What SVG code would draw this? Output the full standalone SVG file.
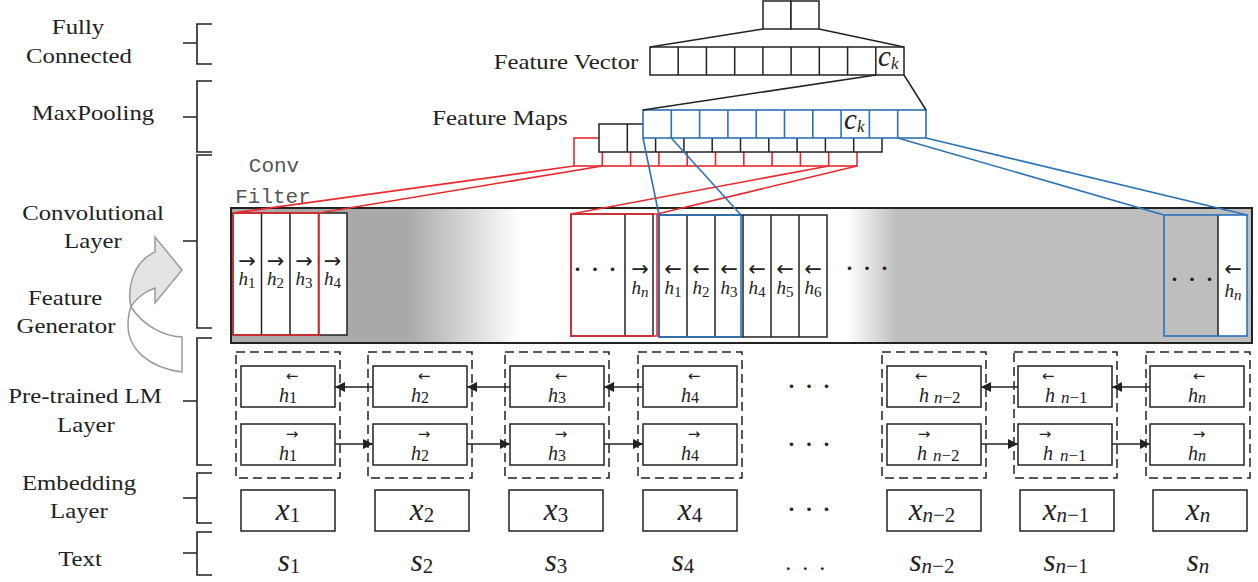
<svg xmlns="http://www.w3.org/2000/svg" width="1258" height="582" viewBox="0 0 1258 582">
<defs>
<linearGradient id="cg" x1="231" x2="1252" y1="0" y2="0" gradientUnits="userSpaceOnUse">
<stop offset="0" stop-color="#a9a9a9"/>
<stop offset="0.172" stop-color="#a9a9a9"/>
<stop offset="0.283" stop-color="#ffffff"/>
<stop offset="0.604" stop-color="#ffffff"/>
<stop offset="0.652" stop-color="#bebebe"/>
<stop offset="1" stop-color="#bebebe"/>
</linearGradient>
<marker id="ah" markerWidth="10" markerHeight="10" refX="10" refY="5" orient="auto" markerUnits="userSpaceOnUse">
<path d="M0,0 L10,5 L0,10 Z" fill="#222"/>
</marker>
</defs>
<style>
.lbl{font-family:"Liberation Serif","Times New Roman",serif;font-size:21px;fill:#222;text-anchor:middle}
.br{fill:none;stroke:#222;stroke-width:1.6}
.box{fill:#fff;stroke:#222;stroke-width:1.5}
.red{stroke:#e8282d;stroke-width:1.6;fill:none}
.blue{stroke:#2b72b8;stroke-width:1.6;fill:none}
.redf{stroke:#e8282d;stroke-width:1.6;fill:#fff}
.bluef{stroke:#2b72b8;stroke-width:1.6;fill:#fff}
.ln{stroke:#222;stroke-width:1.5;fill:none}
.dash{fill:none;stroke:#222;stroke-width:1.5;stroke-dasharray:9 5}
.mi{font-family:"Liberation Serif",serif;font-style:italic;fill:#222}
.h{font-family:"Liberation Serif",serif;font-style:italic;fill:#222}
.sub{font-family:"Liberation Serif",serif;font-style:normal}
.subi{font-family:"Liberation Serif",serif;font-style:italic}
.ar{font-family:"DejaVu Sans",sans-serif;fill:#222;text-anchor:middle}
.dots{font-family:"Liberation Serif",serif;font-size:30px;fill:#222;text-anchor:middle}
.dots2{font-family:"Liberation Serif",serif;font-size:24px;letter-spacing:1.5px;fill:#222;text-anchor:middle}
.cf{font-family:"Liberation Mono",monospace;font-size:21px;fill:#555;text-anchor:middle}
.arrw{stroke:#222;stroke-width:1.5;fill:none;marker-end:url(#ah)}
</style>

<!-- Left labels and braces -->
<g id="labels">
<text class="lbl" transform="translate(78,34) scale(1.18,1)">Fully</text>
<text class="lbl" transform="translate(79,63) scale(1.18,1)">Connected</text>
<text class="lbl" transform="translate(93,120) scale(1.18,1)">MaxPooling</text>
<text class="lbl" transform="translate(93,220) scale(1.18,1)">Convolutional</text>
<text class="lbl" transform="translate(93,248) scale(1.18,1)">Layer</text>
<text class="lbl" transform="translate(65,305) scale(1.18,1)">Feature</text>
<text class="lbl" transform="translate(66,333) scale(1.18,1)">Generator</text>
<text class="lbl" transform="translate(85,403) scale(1.18,1)">Pre-trained LM</text>
<text class="lbl" transform="translate(86,432) scale(1.18,1)">Layer</text>
<text class="lbl" transform="translate(79,490) scale(1.18,1)">Embedding</text>
<text class="lbl" transform="translate(79,518) scale(1.18,1)">Layer</text>
<text class="lbl" transform="translate(80,566) scale(1.18,1)">Text</text>
</g>
<g id="braces">
<path class="br" d="M212,24 H197 V64 H212 M183,43 H197"/>
<path class="br" d="M212,81 H197 V152 H212 M183,117 H197"/>
<path class="br" d="M212,155 H197 V328 H212 M183,241 H197"/>
<path class="br" d="M212,338 H197 V465 H212 M183,401 H197"/>
<path class="br" d="M212,473 H197 V523 H212 M183,498 H197"/>
<path class="br" d="M212,532 H197 V575 H212 M183,553 H197"/>
</g>

<!-- Feature generator curved arrow -->
<g id="feature-generator-arrow">
<path d="M131,307 C143,325 162,336 182,337 L182,372 C150,368 128,350 128,325 C128,318 129,312 131,307 Z" fill="#fff" stroke="#9a9a9a" stroke-width="1.5"/>
<path d="M155,252 L155,237 L182,270 L155,303 L155,288 C146,291 136,298 131,307 C127,290 132,262 155,252 Z" fill="#e4e4e4" stroke="#9a9a9a" stroke-width="1.5"/>
</g>

<!-- Fully connected -->
<g id="fully-connected">
<rect class="box" x="763" y="1" width="28" height="28"/>
<rect class="box" x="791" y="1" width="28" height="28"/>
</g>

<!-- Feature vector -->
<g id="feature-vector">
<text class="lbl" transform="translate(566,69) scale(1.18,1)">Feature Vector</text>
<rect class="box" x="650" y="47" width="254" height="28"/>
<path class="ln" d="M678.2,47V75 M706.4,47V75 M734.7,47V75 M762.9,47V75 M791.1,47V75 M819.3,47V75 M847.6,47V75 M875.8,47V75"/>
<text class="mi" font-size="29" x="878" y="66">c<tspan class="subi" font-size="17" dy="3">k</tspan></text>
</g>

<!-- Feature maps -->
<g id="feature-maps">
<text class="lbl" transform="translate(500,125) scale(1.18,1)">Feature Maps</text>
<rect class="redf" x="574" y="138" width="283" height="28"/>
<path class="red" d="M602.3,138V166 M630.6,138V166 M658.9,138V166 M687.2,138V166 M715.5,138V166 M743.8,138V166 M772.1,138V166 M800.4,138V166 M828.7,138V166"/>
<rect class="box" x="599" y="124" width="283" height="28"/>
<path class="ln" d="M627.3,124V152 M655.6,124V152 M683.9,124V152 M712.2,124V152 M740.5,124V152 M768.8,124V152 M797.1,124V152 M825.4,124V152 M853.7,124V152"/>
<rect class="bluef" x="643" y="110" width="283" height="28"/>
<path class="blue" d="M671.3,110V138 M699.6,110V138 M727.9,110V138 M756.2,110V138 M784.5,110V138 M812.8,110V138 M841.1,110V138 M869.4,110V138 M897.7,110V138"/>
<text class="mi" font-size="29" x="844" y="129">c<tspan class="subi" font-size="17" dy="3">k</tspan></text>
</g>

<!-- Conv filter label -->
<g id="conv-filter-label">
<text class="cf" x="274" y="172">Conv</text>
<text class="cf" x="273" y="203">Filter</text>
</g>

<!-- Convolutional layer -->
<g id="conv-layer">
<rect x="231" y="208" width="1021" height="135" fill="url(#cg)" stroke="#222" stroke-width="2"/>
<!-- left cells -->
<rect class="box" x="233" y="213" width="114" height="122"/>
<path class="ln" d="M261.5,213V335 M290,213V335 M318.5,213V335"/>
<text class="ar" font-size="21" x="247" y="268">→</text>
<text class="ar" font-size="21" x="275.5" y="268">→</text>
<text class="ar" font-size="21" x="304" y="268">→</text>
<text class="ar" font-size="21" x="332.5" y="268">→</text>
<text class="h" font-size="19" x="247" y="285" text-anchor="middle">h<tspan class="sub" font-size="15" dy="3">1</tspan></text>
<text class="h" font-size="19" x="275.5" y="285" text-anchor="middle">h<tspan class="sub" font-size="15" dy="3">2</tspan></text>
<text class="h" font-size="19" x="304" y="285" text-anchor="middle">h<tspan class="sub" font-size="15" dy="3">3</tspan></text>
<text class="h" font-size="19" x="332.5" y="285" text-anchor="middle">h<tspan class="sub" font-size="15" dy="3">4</tspan></text>
<rect class="red" x="233" y="213" width="86" height="122" stroke-width="2"/>
<!-- middle forward end -->
<rect class="box" x="571" y="214" width="82" height="122"/>
<path class="ln" d="M625,214V336"/>
<text class="dots" x="595" y="279">· · ·</text>
<text class="ar" font-size="21" x="640" y="276">→</text>
<text class="h" font-size="19" x="640" y="294" text-anchor="middle">h<tspan class="subi" font-size="15" dy="3">n</tspan></text>
<rect class="red" x="571" y="214" width="86" height="122" stroke-width="2"/>
<!-- middle backward cells -->
<rect class="box" x="659" y="215" width="168" height="122"/>
<path class="ln" d="M687,215V337 M715,215V337 M743,215V337 M771,215V337 M799,215V337"/>
<text class="ar" font-size="21" x="673" y="276">←</text>
<text class="ar" font-size="21" x="701" y="276">←</text>
<text class="ar" font-size="21" x="729" y="276">←</text>
<text class="ar" font-size="21" x="757" y="276">←</text>
<text class="ar" font-size="21" x="785" y="276">←</text>
<text class="ar" font-size="21" x="813" y="276">←</text>
<text class="h" font-size="19" x="673" y="294" text-anchor="middle">h<tspan class="sub" font-size="15" dy="3">1</tspan></text>
<text class="h" font-size="19" x="701" y="294" text-anchor="middle">h<tspan class="sub" font-size="15" dy="3">2</tspan></text>
<text class="h" font-size="19" x="729" y="294" text-anchor="middle">h<tspan class="sub" font-size="15" dy="3">3</tspan></text>
<text class="h" font-size="19" x="757" y="294" text-anchor="middle">h<tspan class="sub" font-size="15" dy="3">4</tspan></text>
<text class="h" font-size="19" x="785" y="294" text-anchor="middle">h<tspan class="sub" font-size="15" dy="3">5</tspan></text>
<text class="h" font-size="19" x="813" y="294" text-anchor="middle">h<tspan class="sub" font-size="15" dy="3">6</tspan></text>
<rect class="blue" x="659" y="215" width="82" height="122" stroke-width="2"/>
<text class="dots" x="867" y="278">· · ·</text>
<!-- right end -->
<rect x="1218" y="215" width="29" height="121" fill="#fff"/>
<path class="ln" d="M1218,215V336"/>
<text class="dots" x="1192" y="289">· · ·</text>
<text class="ar" font-size="21" x="1233" y="276">←</text>
<text class="h" font-size="19" x="1233" y="297" text-anchor="middle">h<tspan class="subi" font-size="15" dy="3">n</tspan></text>
<rect class="blue" x="1164" y="215" width="83" height="121" stroke-width="2"/>
</g>

<!-- Pre-trained LM layer columns -->
<g id="lm-col1">
<rect class="dash" x="236" y="352" width="104" height="126"/>
<rect class="box" x="241" y="366" width="94" height="41"/>
<rect class="box" x="241" y="424" width="94" height="41"/>
<text class="ar" font-size="15" x="292" y="381">←</text>
<text class="h" font-size="20" x="288" y="402" text-anchor="middle">h<tspan class="sub" font-size="16" dy="1">1</tspan></text>
<text class="ar" font-size="15" x="292" y="439">→</text>
<text class="h" font-size="20" x="288" y="460" text-anchor="middle">h<tspan class="sub" font-size="16" dy="1">1</tspan></text>
</g>
<g id="lm-col2">
<rect class="dash" x="368" y="352" width="104" height="126"/>
<rect class="box" x="373" y="366" width="94" height="41"/>
<rect class="box" x="373" y="424" width="94" height="41"/>
<text class="ar" font-size="15" x="424" y="381">←</text>
<text class="h" font-size="20" x="420" y="402" text-anchor="middle">h<tspan class="sub" font-size="16" dy="1">2</tspan></text>
<text class="ar" font-size="15" x="424" y="439">→</text>
<text class="h" font-size="20" x="420" y="460" text-anchor="middle">h<tspan class="sub" font-size="16" dy="1">2</tspan></text>
</g>
<g id="lm-col3">
<rect class="dash" x="505" y="352" width="104" height="126"/>
<rect class="box" x="510" y="366" width="94" height="41"/>
<rect class="box" x="510" y="424" width="94" height="41"/>
<text class="ar" font-size="15" x="561" y="381">←</text>
<text class="h" font-size="20" x="557" y="402" text-anchor="middle">h<tspan class="sub" font-size="16" dy="1">3</tspan></text>
<text class="ar" font-size="15" x="561" y="439">→</text>
<text class="h" font-size="20" x="557" y="460" text-anchor="middle">h<tspan class="sub" font-size="16" dy="1">3</tspan></text>
</g>
<g id="lm-col4">
<rect class="dash" x="638" y="352" width="104" height="126"/>
<rect class="box" x="643" y="366" width="94" height="41"/>
<rect class="box" x="643" y="424" width="94" height="41"/>
<text class="ar" font-size="15" x="694" y="381">←</text>
<text class="h" font-size="20" x="690" y="402" text-anchor="middle">h<tspan class="sub" font-size="16" dy="1">4</tspan></text>
<text class="ar" font-size="15" x="694" y="439">→</text>
<text class="h" font-size="20" x="690" y="460" text-anchor="middle">h<tspan class="sub" font-size="16" dy="1">4</tspan></text>
</g>
<g id="lm-dots">
<text class="dots" x="809" y="396">· · ·</text>
<text class="dots" x="809" y="454">· · ·</text>
</g>
<g id="lm-col5">
<rect class="dash" x="882" y="352" width="104" height="126"/>
<rect class="box" x="887" y="366" width="94" height="41"/>
<rect class="box" x="887" y="424" width="94" height="41"/>
<text class="ar" font-size="15" x="921" y="381">←</text>
<text class="h" font-size="20" x="919" y="402">h<tspan class="subi" font-size="17" dx="5" dy="1">n</tspan><tspan class="sub" font-size="17">−2</tspan></text>
<text class="ar" font-size="15" x="924" y="439">→</text>
<text class="h" font-size="20" x="917" y="460">h<tspan class="subi" font-size="17" dx="6" dy="1">n</tspan><tspan class="sub" font-size="17">−2</tspan></text>
</g>
<g id="lm-col6">
<rect class="dash" x="1014" y="352" width="103" height="126"/>
<rect class="box" x="1018" y="366" width="94" height="41"/>
<rect class="box" x="1018" y="424" width="94" height="41"/>
<text class="ar" font-size="15" x="1048" y="381">←</text>
<text class="h" font-size="20" x="1045" y="402">h<tspan class="subi" font-size="17" dx="6" dy="1">n</tspan><tspan class="sub" font-size="17">−1</tspan></text>
<text class="ar" font-size="15" x="1045" y="439">→</text>
<text class="h" font-size="20" x="1043" y="460">h<tspan class="subi" font-size="17" dx="7" dy="1">n</tspan><tspan class="sub" font-size="17">−1</tspan></text>
</g>
<g id="lm-col7">
<rect class="dash" x="1146" y="352" width="104" height="126"/>
<rect class="box" x="1150" y="366" width="94" height="41"/>
<rect class="box" x="1150" y="424" width="94" height="41"/>
<text class="ar" font-size="15" x="1199" y="381">←</text>
<text class="h" font-size="20" x="1197" y="402" text-anchor="middle">h<tspan class="subi" font-size="16" dy="1">n</tspan></text>
<text class="ar" font-size="15" x="1199" y="439">→</text>
<text class="h" font-size="20" x="1197" y="460" text-anchor="middle">h<tspan class="subi" font-size="16" dy="1">n</tspan></text>
</g>

<!-- Embedding layer -->
<g id="embedding">
<rect class="box" x="241" y="490" width="94" height="41"/>
<rect class="box" x="375" y="490" width="94" height="41"/>
<rect class="box" x="509" y="490" width="94" height="41"/>
<rect class="box" x="643" y="490" width="94" height="41"/>
<rect class="box" x="887" y="490" width="94" height="41"/>
<rect class="box" x="1020" y="490" width="94" height="41"/>
<rect class="box" x="1153" y="490" width="94" height="41"/>
<text class="mi" font-size="31" x="288" y="520" text-anchor="middle">x<tspan class="sub" font-size="21" dy="2">1</tspan></text>
<text class="mi" font-size="31" x="422" y="520" text-anchor="middle">x<tspan class="sub" font-size="21" dy="2">2</tspan></text>
<text class="mi" font-size="31" x="556" y="520" text-anchor="middle">x<tspan class="sub" font-size="21" dy="2">3</tspan></text>
<text class="mi" font-size="31" x="690" y="520" text-anchor="middle">x<tspan class="sub" font-size="21" dy="2">4</tspan></text>
<text class="dots" x="809" y="519">· · ·</text>
<text class="mi" font-size="31" x="932" y="520" text-anchor="middle">x<tspan class="subi" font-size="21" dy="2">n</tspan><tspan class="sub" font-size="21">−2</tspan></text>
<text class="mi" font-size="31" x="1066" y="520" text-anchor="middle">x<tspan class="subi" font-size="21" dy="2">n</tspan><tspan class="sub" font-size="21">−1</tspan></text>
<text class="mi" font-size="31" x="1198" y="520" text-anchor="middle">x<tspan class="subi" font-size="21" dy="2">n</tspan></text>
</g>

<!-- Text tokens -->
<g id="text-tokens">
<text class="mi" font-size="31" x="289" y="571" text-anchor="middle">s<tspan class="sub" font-size="21" dy="2">1</tspan></text>
<text class="mi" font-size="31" x="422" y="571" text-anchor="middle">s<tspan class="sub" font-size="21" dy="2">2</tspan></text>
<text class="mi" font-size="31" x="556" y="571" text-anchor="middle">s<tspan class="sub" font-size="21" dy="2">3</tspan></text>
<text class="mi" font-size="31" x="683" y="571" text-anchor="middle">s<tspan class="sub" font-size="21" dy="2">4</tspan></text>
<text class="dots2" x="806" y="576">· · ·</text>
<text class="mi" font-size="31" x="932" y="571" text-anchor="middle">s<tspan class="subi" font-size="21" dy="2">n</tspan><tspan class="sub" font-size="21">−2</tspan></text>
<text class="mi" font-size="31" x="1066" y="571" text-anchor="middle">s<tspan class="subi" font-size="21" dy="2">n</tspan><tspan class="sub" font-size="21">−1</tspan></text>
<text class="mi" font-size="31" x="1198" y="571" text-anchor="middle">s<tspan class="subi" font-size="21" dy="2">n</tspan></text>
</g>

<!-- Connectors -->
<g id="connectors">
<path class="ln" d="M763,29 L650,47 M819,29 L904,47"/>
<path class="ln" d="M876,75 L643,110 M904,75 L926,110"/>
<path class="red" d="M574,166 L233,213 M602.3,166 L319,213 M828.7,166 L571,214 M857,166 L657,214"/>
<path class="blue" d="M643,138 L659,215 M671.3,138 L741,215 M897.7,138 L1164,215 M926,138 L1247,215"/>
<path class="arrw" d="M373,387 H335"/>
<path class="arrw" d="M510,387 H467"/>
<path class="arrw" d="M643,387 H604"/>
<path class="arrw" d="M1018,387 H981"/>
<path class="arrw" d="M1150,387 H1112"/>
<path class="arrw" d="M335,444 H373"/>
<path class="arrw" d="M467,444 H510"/>
<path class="arrw" d="M604,444 H643"/>
<path class="arrw" d="M981,444 H1018"/>
<path class="arrw" d="M1112,444 H1150"/>
</g>
</svg>
